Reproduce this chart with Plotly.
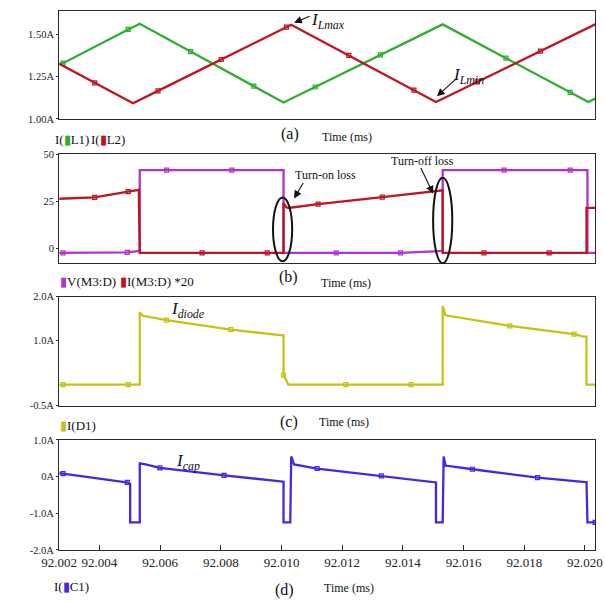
import plotly.graph_objects as go

W, H = 605, 604
SERIF = "Liberation Serif"

# ---------------- data (time in ms) ----------------
# (a) inductor currents
t_L1 = [92.002673, 92.002799, 92.004948, 92.005327, 92.007002, 92.009087, 92.010066,
        92.011109, 92.013258, 92.015311, 92.017397, 92.019514, 92.020114, 92.020335]
i_L1 = [1.326, 1.330, 1.530, 1.564, 1.399, 1.194, 1.097,
        1.189, 1.379, 1.560, 1.360, 1.157, 1.100, 1.120]
m_L1 = [1, 2, 4, 5, 7, 8, 10, 11]

t_L2 = [92.002673, 92.003842, 92.005106, 92.005927, 92.008013, 92.010161, 92.010319,
        92.012215, 92.014363, 92.015090, 92.016449, 92.018534, 92.020335]
i_L2 = [1.326, 1.214, 1.093, 1.166, 1.352, 1.544, 1.558,
        1.376, 1.170, 1.100, 1.219, 1.402, 1.560]
m_L2 = [1, 3, 4, 5, 7, 8, 10, 11]

# (b) MOSFET drain voltage and current*20
t_VD = [92.002673, 92.002799, 92.004916, 92.005264, 92.005327, 92.005327, 92.006212, 92.008360,
        92.010066, 92.010066, 92.011804, 92.013921, 92.015217, 92.015311, 92.015311,
        92.017334, 92.019514, 92.020082, 92.020082, 92.020335]
v_VD = [-2.5, -2.5, -2.2, -1.6, -1.6, 41.5, 41.5, 41.5,
        41.5, -2.5, -2.5, -2.5, -1.6, -1.6, 41.5,
        41.5, 41.5, 41.5, -2.5, -2.5]
m_VD = [1, 2, 6, 7, 10, 11, 15, 16]

t_ID = [92.002673, 92.003842, 92.004948, 92.005295, 92.005327, 92.007381, 92.009529,
        92.010066, 92.010066, 92.010161, 92.010224, 92.011204, 92.013321, 92.015311,
        92.015311, 92.016670, 92.018819, 92.020051, 92.020051, 92.020335]
i_ID = [26.3, 27.0, 30.1, 31.0, -2.5, -2.5, -2.5,
        -2.5, 24.0, 21.8, 21.4, 23.4, 27.2, 30.8,
        -2.5, -2.5, -2.5, -2.5, 21.4, 21.4]
m_ID = [1, 2, 5, 6, 11, 12, 15, 16]

# (c) diode current
t_D1 = [92.002673, 92.002799, 92.004948, 92.005295, 92.005327, 92.005327, 92.005422, 92.006212,
        92.008329, 92.010035, 92.010066, 92.010066, 92.010224, 92.012120, 92.014269,
        92.015311, 92.015311, 92.015406, 92.017523, 92.019640, 92.019956, 92.020051,
        92.020051, 92.020335]
i_D1 = [-0.02, -0.02, -0.02, -0.02, -0.02, 1.64, 1.56, 1.46,
        1.24, 1.11, 1.11, 0.20, -0.02, -0.02, -0.02,
        -0.02, 1.78, 1.57, 1.33, 1.14, 1.08, 1.08,
        -0.02, -0.02]
m_D1 = [1, 2, 7, 8, 11, 13, 14, 18, 19]

# (d) capacitor current
t_C1 = [92.002673, 92.002799, 92.004885, 92.004916, 92.005011, 92.005011, 92.005327, 92.005327,
        92.005517, 92.005991, 92.008107, 92.010035, 92.010066, 92.010066, 92.010288, 92.010319,
        92.010414, 92.011172, 92.013289, 92.015059, 92.015090, 92.015090, 92.015311, 92.015343,
        92.015406, 92.016291, 92.018440, 92.020019, 92.020051, 92.020082, 92.020335]
i_C1 = [0.09, 0.08, -0.16, -0.16, -0.20, -1.25, -1.25, 0.36,
        0.33, 0.24, 0.035, -0.14, -0.14, -1.25, -1.25, 0.55,
        0.33, 0.22, 0.02, -0.16, -0.16, -1.25, -1.25, 0.55,
        0.30, 0.20, -0.03, -0.15, -0.15, -1.25, -1.25]
m_C1 = [1, 3, 9, 10, 17, 18, 25, 26, 30]

x_range = [92.002673, 92.020335]
x_tickvals = [92.002673, 92.004, 92.006, 92.008, 92.010, 92.012, 92.014, 92.016, 92.018, 92.020]
x_ticktext = ["92.002", "92.004", "92.006", "92.008", "92.010", "92.012", "92.014", "92.016", "92.018", "92.020"]

ya_vals, ya_text, ya_range = [1.0, 1.25, 1.5], ["1.00A", "1.25A", "1.50A"], [1.0, 1.64]
yb_vals, yb_text, yb_range = [0, 25, 50], ["0", "25", "50"], [-8, 50]
yc_vals, yc_text, yc_range = [-0.5, 1.0, 2.0], ["-0.5A", "1.0A", "2.0A"], [-0.5, 2.0]
yd_vals, yd_text, yd_range = [-2, -1, 0, 1], ["-2.0A", "-1.0A", "0A", "1.0A"], [-2.0, 1.0]

GREEN = "#2fae2f"
RED = "#c0141e"
MAGENTA = "#b034cc"
YELLOW = "#c4c418"
BLUE = "#4a24e6"

fig = go.Figure()


def add_series(t, v, marks, color, ax):
    xa, ya = ax
    fig.add_trace(go.Scatter(x=t, y=v, mode="lines", line=dict(color=color, width=2.3),
                             xaxis=xa, yaxis=ya, showlegend=False, hoverinfo="skip"))
    fig.add_trace(go.Scatter(x=[t[i] for i in marks], y=[v[i] for i in marks], mode="markers",
                             marker=dict(symbol="square-open", size=4, color=color,
                                         line=dict(width=1.2, color=color)),
                             xaxis=xa, yaxis=ya, showlegend=False, hoverinfo="skip"))


add_series(t_L1, i_L1, m_L1, GREEN, ("x", "y"))
add_series(t_L2, i_L2, m_L2, RED, ("x", "y"))
add_series(t_VD, v_VD, m_VD, MAGENTA, ("x2", "y2"))
add_series(t_ID, i_ID, m_ID, RED, ("x2", "y2"))
add_series(t_D1, i_D1, m_D1, YELLOW, ("x3", "y3"))
add_series(t_C1, i_C1, m_C1, BLUE, ("x4", "y4"))


def py(p):
    return 1 - p / H


def px(p):
    return p / W


xdom = [px(43), px(602)]
frames = [(6, 116), (152, 263), (297, 408), (443, 555)]
yspecs = [(ya_vals, ya_text, ya_range), (yb_vals, yb_text, yb_range),
          (yc_vals, yc_text, yc_range), (yd_vals, yd_text, yd_range)]

axis_line = dict(showline=True, linecolor="#2a2a2a", linewidth=1.3, mirror=True,
                 showgrid=False, zeroline=False)
lay = {}
for k, ((top, bot), (vals, txt, rng)) in enumerate(zip(frames, yspecs)):
    sx = "" if k == 0 else str(k + 1)
    last = k == 3
    xa = dict(domain=xdom, range=x_range, anchor="y" + sx,
              tickvals=x_tickvals if last else [],
              showticklabels=last, ticks="inside" if last else "",
              ticklen=5, tickcolor="#2a2a2a",
              tickfont=dict(family=SERIF, size=13, color="#222"),
              **axis_line)
    if last:
        xa["ticktext"] = x_ticktext
        xa["ticklabeloverflow"] = "allow"
    lay["xaxis" + sx] = xa
    lay["yaxis" + sx] = dict(domain=[py(bot), py(top)], range=rng, anchor="x" + sx,
                             tickvals=vals, ticktext=txt, ticks="outside", ticklen=2,
                             tickcolor="#2a2a2a",
                             tickfont=dict(family=SERIF, size=10.5, color="#222"),
                             **axis_line)
fig.update_layout(**lay)

ann = []


def text(x, y, s, size=12, anchor="center"):
    ann.append(dict(x=px(x), y=py(y), xref="paper", yref="paper", text=s, showarrow=False,
                    xanchor=anchor, yanchor="middle",
                    font=dict(family=SERIF, size=size, color="#111")))


def arrow(hx, hy, tx, ty):
    ann.append(dict(x=px(hx), y=py(hy), xref="paper", yref="paper", text="", showarrow=True,
                    ax=tx - hx, ay=ty - hy, arrowhead=2, arrowsize=1.4, arrowwidth=1.1,
                    arrowcolor="#111", standoff=0))


def bar(c):
    return f"<span style='color:{c}'>▮</span>"


# panel (a)
text(36, 137, f"I({bar(GREEN)}L1)", 13, "left")
text(74, 137, f"I({bar(RED)}L2)", 13, "left")
text(284, 131, "(a)", 16)
text(343, 134, "Time (ms)", 12)
text(323, 16, "<i>I</i><sub><i>Lmax</i></sub>", 17)
text(470, 72, "<i>I</i><sub><i>Lmin</i></sub>", 17)
arrow(288, 18, 305, 11)
arrow(437, 93, 458, 74)

# panel (b)
text(42, 282, f"{bar(MAGENTA)}V(M3:D)", 13, "left")
text(104, 282, f"{bar(RED)}I(M3:D) *20", 13, "left")
text(282, 277, "(b)", 16)
text(342, 283, "Time (ms)", 12)
text(321, 173, "Turn-on loss", 12)
text(422, 159, "Turn-off loss", 12)
arrow(288, 197, 298, 180)
arrow(433, 192, 420, 165)

# panel (c)
text(42, 428, f"{bar(YELLOW)}I(D1)", 13, "left")
text(283, 425, "(c)", 16)
text(340, 425, "Time (ms)", 12)
text(177, 311, "<i>I</i><sub><i>diode</i></sub>", 17)

# panel (d)
text(35, 592, f"I({bar(BLUE)}C1)", 13, "left")
text(278, 596, "(d)", 16)
text(345, 594, "Time (ms)", 12)
text(177, 465, "<i>I</i><sub><i>cap</i></sub>", 17)

shapes = [
    dict(type="circle", xref="paper", yref="paper", x0=px(266), x1=px(286), y0=py(261), y1=py(196),
         line=dict(color="#111", width=2)),
    dict(type="circle", xref="paper", yref="paper", x0=px(433), x1=px(453), y0=py(263), y1=py(176),
         line=dict(color="#111", width=2)),
]

fig.update_layout(width=W, height=H, margin=dict(l=0, r=0, t=0, b=0),
                  paper_bgcolor="white", plot_bgcolor="white",
                  annotations=ann, shapes=shapes, showlegend=False)

fig.write_html("out.html")
